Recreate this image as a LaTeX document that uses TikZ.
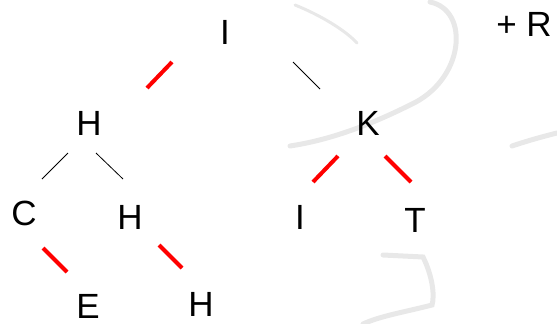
\documentclass[tikz,border=0pt]{standalone}
\usepackage{fontspec}
\setmainfont{Liberation Sans}
\begin{document}
\begin{tikzpicture}[x=1pt,y=-1pt,
  lbl/.style={inner sep=0pt,font=\fontsize{35}{35}\selectfont},
  redseg/.style={draw=red,line width=4pt},
  blkseg/.style={draw=black,line width=0.8pt},
  wmark/.style={draw=black!9,line width=5pt,line cap=round}]
\useasboundingbox (0,0) rectangle (557,324);
% faint watermark strokes
\draw[wmark] (430,2) .. controls (470,10) and (465,80) .. (410,105) .. controls (370,125) and (330,140) .. (290,146);
\draw[wmark,line width=3pt] (295,5) .. controls (320,15) and (345,30) .. (357,43);
\draw[wmark] (512,146) .. controls (530,140) and (545,136) .. (557,133);
\draw[wmark] (383,255) -- (423,257) .. controls (432,275) and (435,295) .. (432,305) .. controls (405,312) and (380,316) .. (363,324);
% nodes
\node[lbl] (i1) at (225,32) {I};
\node[lbl] (r) at (524,24) {+ R};
\node[lbl] (h1) at (89,123) {H};
\node[lbl] (k) at (368,123) {K};
\node[lbl] (c) at (24,213) {C};
\node[lbl] (h2) at (130,217) {H};
\node[lbl] (i2) at (300,217) {I};
\node[lbl] (t) at (415,220) {T};
\node[lbl] (e) at (88,306) {E};
\node[lbl] (h3) at (201,304) {H};
% connector end points
\coordinate (a1) at (172,62);  \coordinate (a2) at (147,88);
\coordinate (b1) at (293,62);  \coordinate (b2) at (320,89);
\coordinate (c1) at (68,153);  \coordinate (c2) at (42,179);
\coordinate (d1) at (96,153);  \coordinate (d2) at (123,179);
\coordinate (e1) at (338,156); \coordinate (e2) at (313,182);
\coordinate (f1) at (385,156); \coordinate (f2) at (411,182);
\coordinate (g1) at (43,248);  \coordinate (g2) at (67,272);
\coordinate (k1) at (159,245); \coordinate (k2) at (182,268);
% connectors
\draw[redseg] (a1) -- (a2);
\draw[blkseg] (b1) -- (b2);
\draw[blkseg] (c1) -- (c2);
\draw[blkseg] (d1) -- (d2);
\draw[redseg] (e1) -- (e2);
\draw[redseg] (f1) -- (f2);
\draw[redseg] (g1) -- (g2);
\draw[redseg] (k1) -- (k2);
\end{tikzpicture}
\end{document}
